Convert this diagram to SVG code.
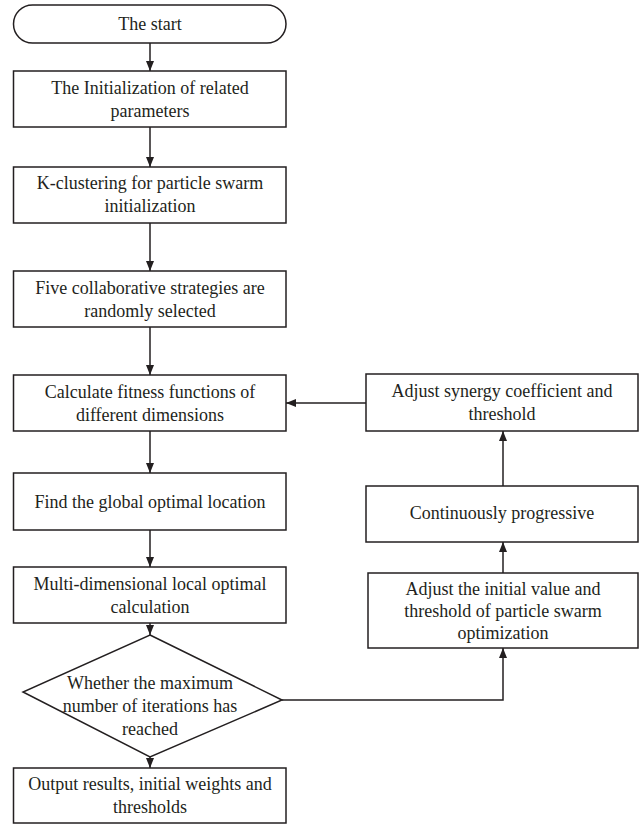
<svg xmlns="http://www.w3.org/2000/svg" width="639" height="824" viewBox="0 0 639 824">
<defs>
<marker id="ah" viewBox="0 0 10 8" refX="10" refY="4" markerWidth="10" markerHeight="8" markerUnits="userSpaceOnUse" orient="auto">
<path d="M0,0 L10,4 L0,8 Z" fill="#231f20"/>
</marker>
<style>
.n{fill:#fff;stroke:#231f20;stroke-width:1.5}
.t{font-family:'Liberation Serif','Times New Roman',serif;font-size:18px;fill:#231f20;text-anchor:middle}
.c{fill:none;stroke:#231f20;stroke-width:1.5;marker-end:url(#ah)}
</style>
</defs>
<rect width="639" height="824" fill="#fff"/>
<g id="connectors">
<path class="c" d="M150,43 V71"/>
<path class="c" d="M150,127 V167"/>
<path class="c" d="M150,223 V271"/>
<path class="c" d="M150,327 V375"/>
<path class="c" d="M150,431 V473"/>
<path class="c" d="M150,530 V567"/>
<path class="c" d="M150,623 V635"/>
<path class="c" d="M150,757 V768"/>
<path class="c" d="M282,700 H503 V648"/>
<path class="c" d="M503,573 V542"/>
<path class="c" d="M503,486 V431"/>
<path class="c" d="M366,403 H286"/>
</g>
<g id="start">
<rect class="n" x="13.5" y="5" width="272.5" height="38" rx="19" ry="19"/>
<text class="t" x="150" y="30">The start</text>
</g>
<g id="init">
<rect class="n" x="13.5" y="71" width="272.5" height="56"/>
<text class="t" x="150" y="94">The Initialization of related</text>
<text class="t" x="150" y="117">parameters</text>
</g>
<g id="kcluster">
<rect class="n" x="13.5" y="167" width="272.5" height="56"/>
<text class="t" x="150" y="189">K-clustering for particle swarm</text>
<text class="t" x="150" y="212">initialization</text>
</g>
<g id="five">
<rect class="n" x="13.5" y="271" width="272.5" height="56"/>
<text class="t" x="150" y="294">Five collaborative strategies are</text>
<text class="t" x="150" y="317">randomly selected</text>
</g>
<g id="fitness">
<rect class="n" x="13.5" y="375" width="272.5" height="56"/>
<text class="t" x="150" y="398">Calculate fitness functions of</text>
<text class="t" x="150" y="421">different dimensions</text>
</g>
<g id="global">
<rect class="n" x="13.5" y="473" width="272.5" height="57"/>
<text class="t" x="150" y="508">Find the global optimal location</text>
</g>
<g id="local">
<rect class="n" x="13.5" y="567" width="272.5" height="56"/>
<text class="t" x="150" y="590">Multi-dimensional local optimal</text>
<text class="t" x="150" y="613">calculation</text>
</g>
<g id="decision">
<polygon class="n" points="150,635 282,700 150,757 23,692"/>
<text class="t" x="150" y="689">Whether the maximum</text>
<text class="t" x="150" y="712">number of iterations has</text>
<text class="t" x="150" y="735">reached</text>
</g>
<g id="output">
<rect class="n" x="13.5" y="768" width="272.5" height="55"/>
<text class="t" x="150" y="790">Output results, initial weights and</text>
<text class="t" x="150" y="813">thresholds</text>
</g>
<g id="synergy">
<rect class="n" x="366" y="374" width="272" height="57"/>
<text class="t" x="502" y="397">Adjust synergy coefficient and</text>
<text class="t" x="502" y="420">threshold</text>
</g>
<g id="progressive">
<rect class="n" x="366" y="486" width="272" height="56"/>
<text class="t" x="502" y="519">Continuously progressive</text>
</g>
<g id="adjustinit">
<rect class="n" x="368" y="573" width="270" height="75"/>
<text class="t" x="503" y="595">Adjust the initial value and</text>
<text class="t" x="503" y="617">threshold of particle swarm</text>
<text class="t" x="503" y="639">optimization</text>
</g>
</svg>
